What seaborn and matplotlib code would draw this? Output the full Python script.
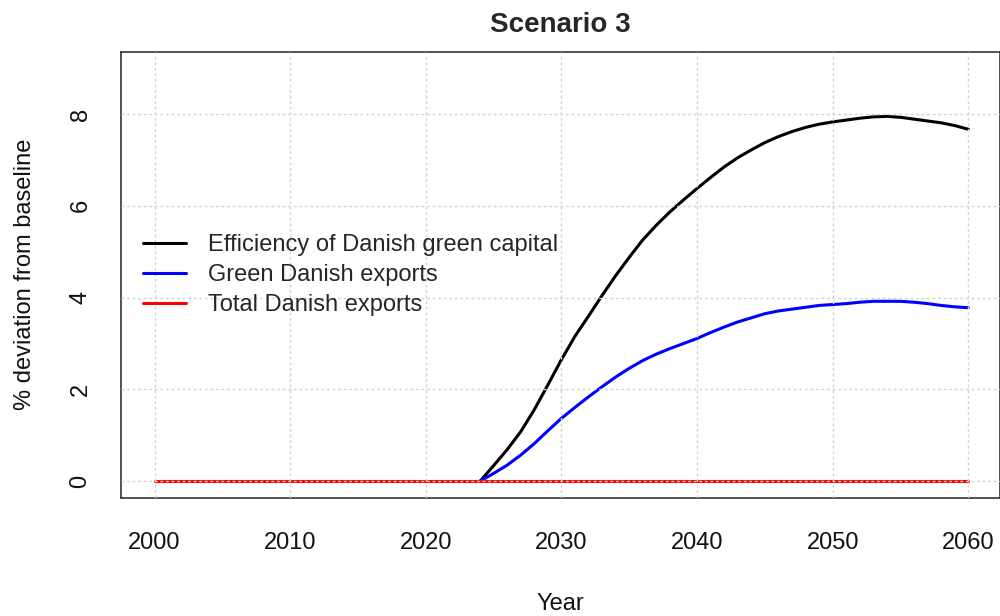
import numpy as np
import pandas as pd
import seaborn as sns
import matplotlib.pyplot as plt

# data (% deviation from baseline)
years_red = list(range(2000, 2061))
total_exports = [0.0] * len(years_red)

years_shock = list(range(2024, 2061))
efficiency_capital = [0.00, 0.34, 0.69, 1.08, 1.56, 2.10, 2.65, 3.16, 3.60, 4.05,
                      4.48, 4.88, 5.26, 5.58, 5.87, 6.13, 6.38, 6.62, 6.85, 7.05,
                      7.22, 7.38, 7.51, 7.62, 7.71, 7.78, 7.83, 7.87, 7.91, 7.94,
                      7.95, 7.93, 7.89, 7.85, 7.81, 7.75, 7.67]
green_exports = [0.00, 0.17, 0.35, 0.57, 0.82, 1.10, 1.37, 1.61, 1.84, 2.06,
                 2.27, 2.46, 2.63, 2.77, 2.89, 3.00, 3.11, 3.24, 3.36, 3.47,
                 3.56, 3.65, 3.71, 3.75, 3.79, 3.83, 3.85, 3.87, 3.90, 3.92,
                 3.92, 3.92, 3.90, 3.87, 3.83, 3.80, 3.78]

series_names = ["Efficiency of Danish green capital", "Green Danish exports", "Total Danish exports"]
series_colors = ["black", "blue", "red"]

# long format for seaborn
df = pd.concat([
    pd.DataFrame({"Year": years_shock, "value": efficiency_capital, "series": series_names[0]}),
    pd.DataFrame({"Year": years_shock, "value": green_exports, "series": series_names[1]}),
    pd.DataFrame({"Year": years_red, "value": total_exports, "series": series_names[2]}),
])

sns.set_style("white")
plt.rcParams["font.family"] = ["Liberation Sans", "DejaVu Sans"]

fig = plt.figure(figsize=(10, 6.16), dpi=100)
ax = fig.add_axes([120.7 / 1000, 1 - 497.7 / 616, 878.8 / 1000, 446 / 616])

sns.lineplot(data=df, x="Year", y="value", hue="series", hue_order=series_names,
             palette=dict(zip(series_names, series_colors)), linewidth=2.2, ax=ax)

ax.set_xlim(1997.5, 2062.3)
ax.set_ylim(-0.36, 9.36)
ax.set_xticks(range(2000, 2061, 10))
ax.set_yticks(range(0, 9, 2))

# dotted grid like R's grid()
for xv in range(2000, 2061, 10):
    ax.axvline(xv, color="#d3d3d3", lw=1, ls=(0, (2, 2)), zorder=5)
for yv in range(0, 9, 2):
    ax.axhline(yv, color="#d3d3d3", lw=1, ls=(0, (2, 2)), zorder=5)

for s in ax.spines.values():
    s.set_color("#333333")
    s.set_linewidth(1.2)
    s.set_visible(True)

ax.tick_params(axis="both", length=10, width=1.2, color="#333333", labelsize=17,
               labelcolor="#111111", direction="out")
ax.tick_params(axis="x", pad=15)
ax.tick_params(axis="y", pad=11)
for lab in ax.get_yticklabels():
    lab.set_rotation(90)
    lab.set_va("center")

ax.set_xlabel("Year", fontsize=17, labelpad=28, color="#111111")
ax.set_ylabel("% deviation from baseline", fontsize=17, labelpad=24, color="#111111")
ax.set_title("Scenario 3", fontsize=20, fontweight="bold", pad=14)

leg = ax.legend(loc="upper left", bbox_to_anchor=(142.7 / 1000, 1 - 234 / 616),
                bbox_transform=fig.transFigure, frameon=False, fontsize=17,
                handlelength=1.85, handletextpad=0.9, labelspacing=0.34,
                borderpad=0, borderaxespad=0)
for line in leg.get_lines():
    line.set_linewidth(2.2)

fig.savefig("out.png", dpi=100)
